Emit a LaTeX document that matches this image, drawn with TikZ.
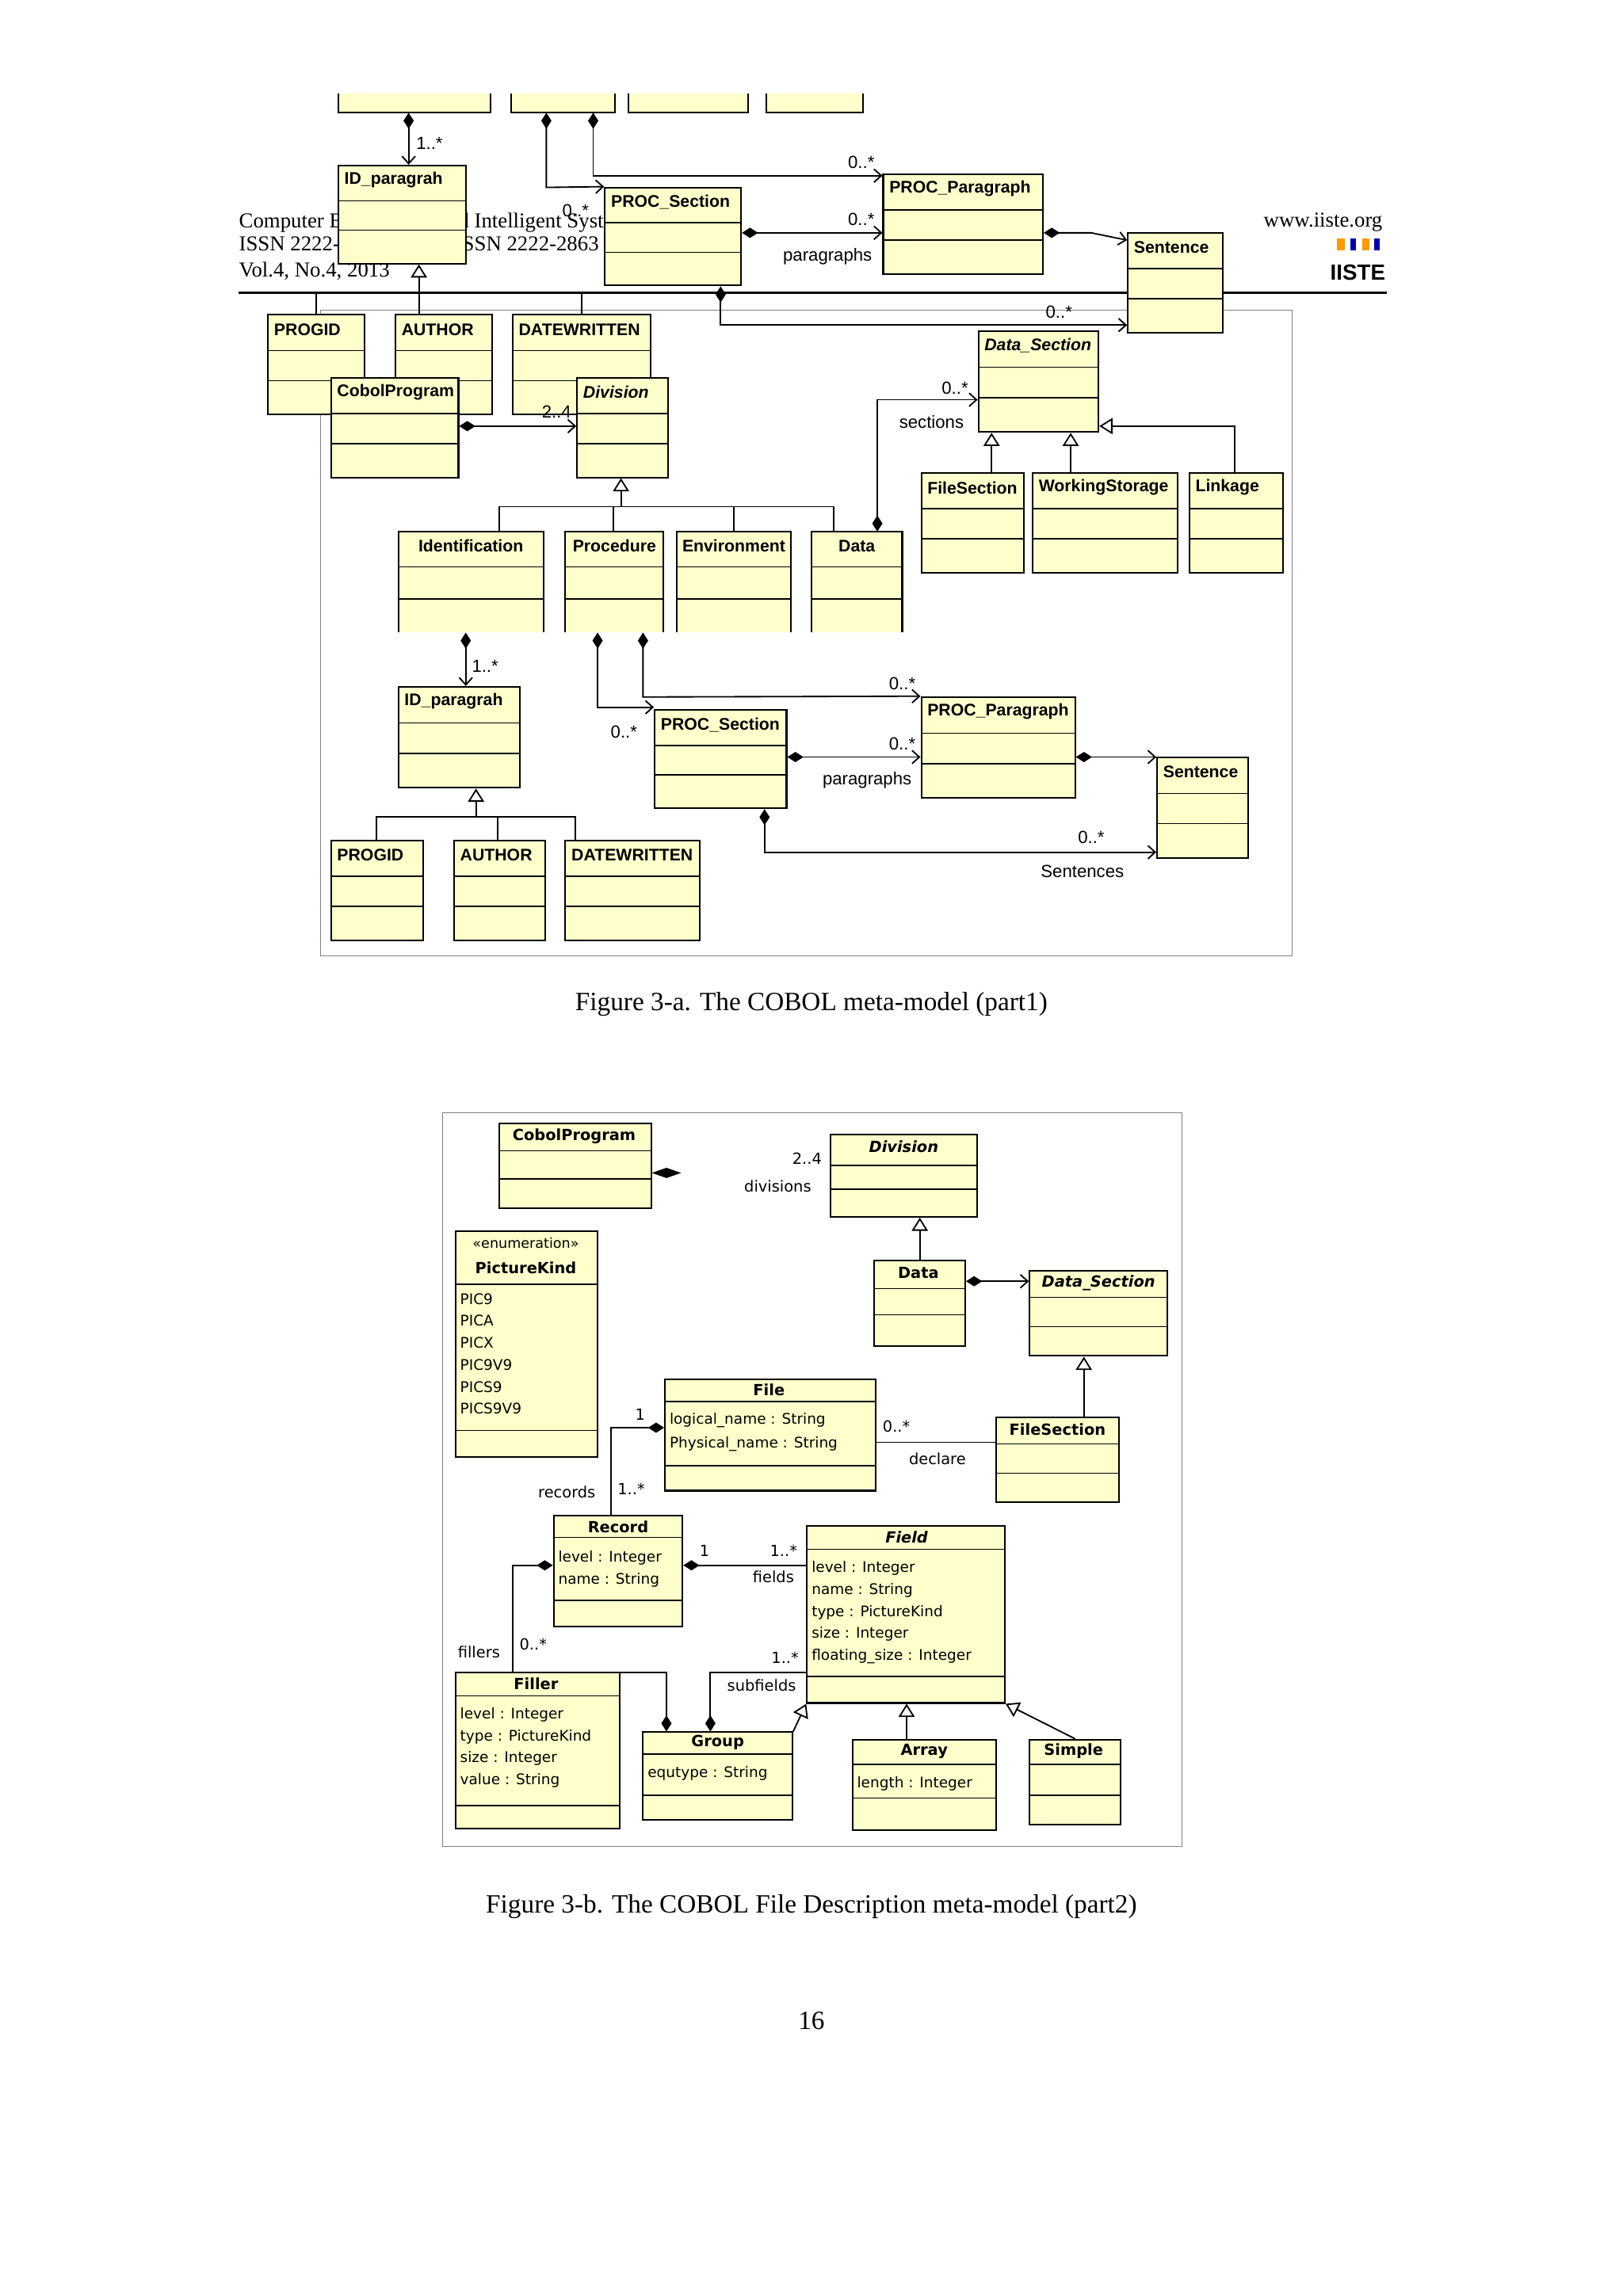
\documentclass[tikz,border=0pt]{standalone}
\usepackage{fontspec}
\setmainfont{Liberation Serif}
\newfontfamily\dsf{Liberation Sans}
\newfontfamily\dvs{DejaVu Sans}
\usetikzlibrary{arrows.meta,fit,calc}
\definecolor{uy}{HTML}{FFFFCC}
\tikzset{
 ubx/.style={draw=black,fill=uy,line width=1.1pt,inner sep=0pt},
 ttl/.style={font=\dsf\bfseries\fontsize{11.5}{12}\selectfont,inner sep=0pt},
 ttlb/.style={font=\dvs\bfseries\fontsize{10.5}{11}\selectfont,inner sep=0pt},
 att/.style={font=\dvs\fontsize{10}{11}\selectfont,inner sep=0pt,anchor=west},
 lbl/.style={font=\dsf\fontsize{12}{13}\selectfont,inner sep=0pt},
 lblb/.style={font=\dvs\fontsize{10.5}{11}\selectfont,inner sep=0pt},
 comp/.style={line width=1pt,{Diamond[length=11pt,width=7pt]}-{Straight Barb[length=5pt,width=9pt]}},
 compn/.style={line width=1pt,{Diamond[length=11pt,width=7pt]}-},
 inh/.style={line width=1pt,-{Triangle[open,length=9pt,width=11pt,fill=white]}},
 pg/.style={font=\fontsize{14.5}{16}\selectfont,inner sep=0pt},
 figcap/.style={font=\fontsize{18}{20}\selectfont,inner sep=0pt},
}
\newcommand\ub[6]{%
 \node[ubx,fit={(#2,#3) (#4,#5)}] (#1) {};
 \node[ttl,anchor=west] at ($(#2,#3)+(4,10)$) {#6};
 \draw[line width=0.8pt] ($(#2,#3)!0.36!(#2,#5)$) -- ($(#4,#3)!0.36!(#4,#5)$);
 \draw[line width=0.8pt] ($(#2,#3)!0.66!(#2,#5)$) -- ($(#4,#3)!0.66!(#4,#5)$);}
\newcommand\uo[6]{%
 \fill[uy] (#2,#3) rectangle (#4,#5);
 \coordinate (#1) at ($(#2,#3)!0.5!(#4,#3)$);
 \draw[line width=1.1pt] (#2,#5) -- (#2,#3) -- (#4,#3) -- (#4,#5);
 \node[ttl] at ($(#1)+(0,10)$) {#6};
 \draw[line width=0.8pt] (#2,#3+24) -- (#4,#3+24);
 \draw[line width=0.8pt] (#2,#3+46) -- (#4,#3+46);}
\newcommand\ud[7]{%
 \node[ubx,fit={(#2,#3) (#4,#5)}] (#1) {};
 \draw[line width=0.8pt] (#2,#6) -- (#4,#6);
 \draw[line width=0.8pt] (#2,#7) -- (#4,#7);}
\begin{document}
\begin{tikzpicture}[x=1pt,y=-1pt]
\useasboundingbox (0,0) rectangle (1108,1568);
\fill[white] (0,0) rectangle (1108,1568);
% ---------- page header ----------
\node[pg,anchor=west] at (163,152) {Computer Engineering and Intelligent Systems};
\node[pg,anchor=west] at (163,168) {ISSN 2222-1719 (Paper) ISSN 2222-2863 (Online)};
\node[pg,anchor=west] at (163,185) {Vol.4, No.4, 2013};
\node[pg,anchor=east] at (944,152) {www.iiste.org};
\fill[orange!80!yellow] (913,163) rectangle (918,171);
\fill[blue!70!black] (922,163) rectangle (926,171);
\fill[orange!80!yellow] (930,163) rectangle (935,171);
\fill[blue!70!black] (938,163) rectangle (942,171);
\node[font=\dsf\bfseries\fontsize{15}{15}\selectfont,inner sep=0pt] at (927,186) {IISTE};
\draw[line width=1.6pt] (163,200) -- (947,200);
% ---------- part 1 ----------
\draw[gray,line width=0.6pt] (219,212) rectangle (882,653);
\foreach \a/\b [count=\i] in {231/335,349/420,429/511,523/589}{
 \fill[uy] (\a,64) rectangle (\b,77);
 \draw[line width=1.1pt] (\a,64) -- (\a,77) -- (\b,77) -- (\b,64);
 \coordinate (T\i) at (\a,77);}
\ub{IDa}{231}{113}{318}{180}{ID\_paragrah}
\ub{PSa}{413}{128}{506}{195}{PROC\_Section}
\ub{PPa}{603}{119}{712}{187}{PROC\_Paragraph}
\ub{SEa}{770}{159}{835}{227}{Sentence}
\draw[comp] (279,77) -- (IDa.north -| 279,0);
\node[lbl,anchor=west] at (284,98) {1..*};
\draw[comp] (373,77) -- (373,128) -- (PSa.north west);
\node[lbl] at (393,144) {0..*};
\draw[comp] (405,77) -- (405,120) -- (PPa.west |- 0,120);
\node[lbl] at (588,111) {0..*};
\draw[comp] (PSa.east |- 0,159) -- (PPa.west |- 0,159);
\node[lbl] at (588,150) {0..*};
\node[lbl] at (565,175) {paragraphs};
\draw[comp] (PPa.east |- 0,159) -- (745,159) -- (SEa.west |- 0,164);
\draw[comp] (PSa.south -| 492,0) -- (492,222) -- (SEa.west |- 0,222);
\node[lbl] at (723,213) {0..*};
\ub{PGa}{183}{215}{249}{283}{PROGID}
\ub{AUa}{270}{215}{336}{283}{AUTHOR}
\ub{DWa}{350}{215}{444}{283}{DATEWRITTEN}
\draw[line width=1pt] (PGa.north -| 216,0) -- (216,200) -- (397,200) -- (DWa.north -| 397,0);
\draw[inh] (AUa.north -| 286,0) -- (IDa.south -| 286,0);
\ub{CPa}{226}{258}{313}{326}{CobolProgram}
\ub{DVa}{394}{258}{456}{326}{\itshape Division}
\draw[comp] (CPa.east |- 0,291) -- (DVa.west |- 0,291);
\node[lbl] at (380,281) {2..4};
\uo{IDN}{272}{363}{371}{432}{Identification}
\uo{PRO}{386}{363}{453}{432}{Procedure}
\uo{ENV}{462}{363}{540}{432}{Environment}
\uo{DAT}{554}{363}{616}{432}{Data}
\draw[line width=1pt] (341,363) -- (341,346) -- (569,346) -- (569,363);
\draw[line width=1pt] (501,346) -- (501,363);
\draw[line width=1pt] (419,346) -- (419,363);
\draw[inh] (424,346) -- (DVa.south -| 424,0);
\ub{DSa}{668}{226}{750}{295}{\itshape Data\_Section}
\draw[comp] (599,363) -- (599,273) -- (DSa.west |- 0,273);
\node[lbl] at (652,265) {0..*};
\node[lbl] at (636,288) {sections};
\ub{FSa}{629}{323}{699}{391}{FileSection}
\ub{WSa}{705}{323}{804}{391}{WorkingStorage}
\ub{LKa}{812}{323}{876}{391}{Linkage}
\draw[inh] (FSa.north -| 677,0) -- (DSa.south -| 677,0);
\draw[inh] (WSa.north -| 731,0) -- (DSa.south -| 731,0);
\draw[inh] (LKa.north -| 843,0) -- (843,291) -- (DSa.east |- 0,291);
\ub{IDb}{272}{469}{355}{538}{ID\_paragrah}
\draw[comp] (318,432) -- (IDb.north -| 318,0);
\node[lbl,anchor=west] at (322,455) {1..*};
\ub{PGb}{226}{574}{289}{642}{PROGID}
\ub{AUb}{310}{574}{372}{642}{AUTHOR}
\ub{DWb}{386}{574}{478}{642}{DATEWRITTEN}
\draw[line width=1pt] (PGb.north -| 257,0) -- (257,558) -- (393,558) -- (DWb.north -| 393,0);
\draw[line width=1pt] (AUb.north -| 340,0) -- (340,558);
\draw[inh] (325,558) -- (IDb.south -| 325,0);
\ub{PSb}{447}{485}{537}{552}{PROC\_Section}
\ub{PPb}{629}{476}{734}{545}{PROC\_Paragraph}
\ub{SEb}{790}{517}{852}{586}{Sentence}
\draw[comp] (408,432) -- (408,483) -- (PSb.west |- 0,483);
\node[lbl] at (426,500) {0..*};
\draw[comp] (439,432) -- (439,476) -- (PPb.north west);
\node[lbl] at (616,467) {0..*};
\draw[comp] (PSb.east |- 0,517) -- (PPb.west |- 0,517);
\node[lbl] at (616,508) {0..*};
\node[lbl] at (592,533) {paragraphs};
\draw[comp] (PPb.east |- 0,517) -- (SEb.west |- 0,517);
\draw[comp] (PSb.south -| 522,0) -- (522,582) -- (SEb.west |- 0,582);
\node[lbl] at (745,572) {0..*};
\node[lbl] at (739,595) {Sentences};
\node[figcap] at (554,686) {Figure 3-a. The COBOL meta-model (part1)};
% ---------- part 2 ----------
\draw[gray,line width=0.6pt] (302,760) rectangle (807,1261);
\ud{CP}{341}{767}{445}{825}{786}{805}
\node[ttlb] at (392,776) {CobolProgram};
\fill (445,801) -- (455,797.5) -- (465,801) -- (455,804.5) -- cycle;
\ud{DV}{567}{775}{667}{831}{796}{812}
\node[ttlb] at (617,783) {\itshape Division};
\node[lblb] at (551,791) {2..4};
\node[lblb] at (531,810) {divisions};
\ud{DA}{597}{861}{659}{919}{880}{898}
\node[ttlb] at (627,869) {Data};
\draw[inh] (DA.north) -- (DV.south -| DA.north);
\ud{DS}{703}{868}{797}{926}{886}{906}
\node[ttlb] at (750,876) {\itshape Data\_Section};
\draw[comp] (DA.east |- 0,875) -- (DS.west |- 0,875);
\ud{FS}{680}{968}{764}{1026}{986}{1006}
\node[ttlb] at (722,976) {FileSection};
\draw[inh] (FS.north -| 740,0) -- (DS.south -| 740,0);
\ud{PK}{311}{841}{408}{995}{877}{977}
\node[lblb,font=\dvs\fontsize{9.5}{10}\selectfont] at (359,849) {«enumeration»};
\node[ttlb] at (359,866) {PictureKind};
\foreach \t [count=\i] in {PIC9,PICA,PICX,PIC9V9,PICS9,PICS9V9}
 \node[att] at (314,872+15*\i) {\t};
\ud{FI}{454}{942}{598}{1018}{957}{1001}
\node[ttlb] at (525,949) {File};
\node[att] at (457,970) {logical\_name : String};
\node[att] at (457,986) {Physical\_name : String};
\draw[line width=1pt] (FI.east |- 0,985) -- (FS.west |- 0,985);
\node[lblb] at (612,974) {0..*};
\node[lblb] at (640,996) {declare};
\ud{RE}{378}{1035}{466}{1111}{1050}{1093}
\node[ttlb] at (422,1043) {Record};
\node[att] at (381,1064) {level : Integer};
\node[att] at (381,1079) {name : String};
\draw[compn] (FI.west |- 0,975) -- (417,975) -- (RE.north -| 417,0);
\node[lblb] at (437,966) {1};
\node[lblb] at (387,1019) {records};
\node[lblb] at (431,1017) {1..*};
\ud{FD}{551}{1042}{686}{1163}{1058}{1145}
\node[ttlb] at (619,1050) {\itshape Field};
\foreach \t [count=\i] in {level : Integer,name : String,type : PictureKind,size : Integer,floating\_size : Integer}
 \node[att] at (554,1056+15*\i) {\t};
\draw[compn] (RE.east |- 0,1069) -- (FD.west |- 0,1069);
\node[lblb] at (481,1059) {1};
\node[lblb] at (535,1059) {1..*};
\node[lblb] at (528,1077) {fields};
\ud{FL}{311}{1142}{423}{1249}{1158}{1233}
\node[ttlb] at (366,1150) {Filler};
\foreach \t [count=\i] in {level : Integer,type : PictureKind,size : Integer,value : String}
 \node[att] at (314,1156+15*\i) {\t};
\draw[compn] (RE.west |- 0,1069) -- (350,1069) -- (FL.north -| 350,0);
\node[lblb] at (327,1128) {fillers};
\node[lblb] at (364,1123) {0..*};
\ud{GR}{439}{1183}{541}{1243}{1198}{1226}
\node[ttlb] at (490,1190) {Group};
\node[att] at (442,1211) {equtype : String};
\draw[compn] (GR.north -| 455,0) -- (455,1142) -- (FL.east |- 0,1142);
\draw[compn] (GR.north -| 485,0) -- (485,1142) -- (FD.west |- 0,1142);
\node[lblb] at (520,1151) {subfields};
\node[lblb] at (536,1132) {1..*};
\ud{AR}{582}{1188}{680}{1250}{1205}{1228}
\node[ttlb] at (631,1196) {Array};
\node[att] at (585,1218) {length : Integer};
\ud{SI}{703}{1188}{765}{1246}{1205}{1226}
\node[ttlb] at (733,1196) {Simple};
\draw[inh] (GR.north east) -- (FD.south west);
\draw[inh] (AR.north -| 619,0) -- (FD.south -| 619,0);
\draw[inh] (SI.north -| 734,0) -- (FD.south east);
\node[figcap] at (554,1302) {Figure 3-b. The COBOL File Description meta-model (part2)};
\node[figcap] at (554,1380) {16};
\end{tikzpicture}
\end{document}
